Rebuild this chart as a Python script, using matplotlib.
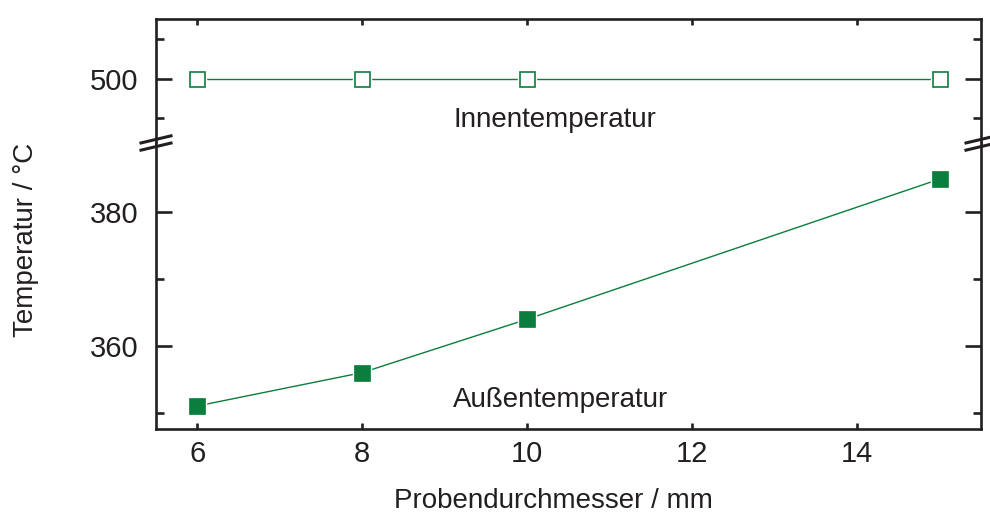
import matplotlib
matplotlib.use("Agg")
import matplotlib.pyplot as plt
from matplotlib.ticker import FixedLocator

# Probendurchmesser in mm und gemessene Temperaturen in °C
durchmesser = [6, 8, 10, 15]
innen = [500, 500, 500, 500]
aussen = [351, 356, 364, 385]

gruen = "#0B7D3D"
dunkel = "#231F20"

plt.rcParams["font.family"] = ["Liberation Sans", "DejaVu Sans"]
plt.rcParams["font.size"] = 20
plt.rcParams["text.color"] = dunkel

fig = plt.figure(figsize=(9.9, 5.13), dpi=100)
W, H = 990, 513
left, right = 156, 981
top, brk, bottom = 19, 143, 429

ax_o = fig.add_axes([left / W, 1 - brk / H, (right - left) / W, (brk - top) / H])
ax_u = fig.add_axes([left / W, 1 - bottom / H, (right - left) / W, (bottom - brk) / H])

for ax in (ax_o, ax_u):
    ax.set_xlim(5.5, 15.5)
    for s in ax.spines.values():
        s.set_linewidth(1.9)
        s.set_color(dunkel)
    ax.tick_params(which="both", direction="in", width=1.9, color=dunkel,
                   labelcolor=dunkel, labelsize=21, left=True, right=True,
                   top=True, bottom=True)
    ax.tick_params(which="major", length=11.5)
    ax.tick_params(which="minor", length=5.5)
    ax.tick_params(axis="y", pad=12.5)
    ax.tick_params(axis="x", which="minor", length=0)
    ax.xaxis.set_major_locator(FixedLocator([6, 8, 10, 12, 14]))

ax_o.tick_params(axis="x", which="major", length=4.5, labelbottom=False, bottom=False)
ax_u.tick_params(axis="x", which="major", length=4.5, top=False, pad=8)
ax_o.spines["bottom"].set_visible(False)
ax_u.spines["top"].set_visible(False)

# oberer Abschnitt: Innentemperatur
ax_o.set_ylim(483.7, 515.2)
ax_o.yaxis.set_major_locator(FixedLocator([500]))
ax_o.yaxis.set_minor_locator(FixedLocator([490, 510]))

# unterer Abschnitt: Außentemperatur
ax_u.set_ylim(347.55, 390.4)
ax_u.yaxis.set_major_locator(FixedLocator([360, 380]))
ax_u.yaxis.set_minor_locator(FixedLocator([350, 370]))

# Verbindungslinien, weißer Rand um die Marker, dann die Marker
ax_o.plot(durchmesser, innen, color=gruen, lw=1.0, zorder=2)
ax_o.plot(durchmesser, innen, ls="none", marker="s", ms=13.5, mfc="white",
          mec="white", zorder=3, clip_on=False)
ax_o.plot(durchmesser, innen, ls="none", marker="s", ms=10.8, mfc="white",
          mec=gruen, mew=1.2, zorder=4, clip_on=False)

ax_u.plot(durchmesser, aussen, color=gruen, lw=1.0, zorder=2)
ax_u.plot(durchmesser, aussen, ls="none", marker="s", ms=13.5, mfc="white",
          mec="white", zorder=3, clip_on=False)
ax_u.plot(durchmesser, aussen, ls="none", marker="s", ms=11, mfc=gruen,
          mec=gruen, mew=0.5, zorder=4, clip_on=False)

ax_o.text(10.33, 487.8, "Innentemperatur", ha="center", va="baseline",
          fontsize=20, color=dunkel)
ax_u.text(10.4, 350.9, "Außentemperatur", ha="center", va="baseline",
          fontsize=20, color=dunkel)

# Achsenbruch: zwei schräge Striche über linker und rechter Achse
hw = 16.5 / (right - left)
hh = 3.9 / (bottom - brk)
gap = 3.6 / (bottom - brk)
for xc in (0, 1):
    for off in (gap, -gap):
        ax_u.plot([xc - hw, xc + hw], [1 + off - hh, 1 + off + hh],
                  transform=ax_u.transAxes, color=dunkel, lw=2.2,
                  clip_on=False, zorder=6, solid_capstyle="butt")

fig.text(26.5 / W, 1 - 240 / H, "Temperatur / °C", rotation=90,
         ha="center", va="center", fontsize=20, color=dunkel)
fig.text(553 / W, 1 - 508 / H, "Probendurchmesser / mm", ha="center",
         va="baseline", fontsize=20, color=dunkel)

fig.savefig("out.png", dpi=100)
